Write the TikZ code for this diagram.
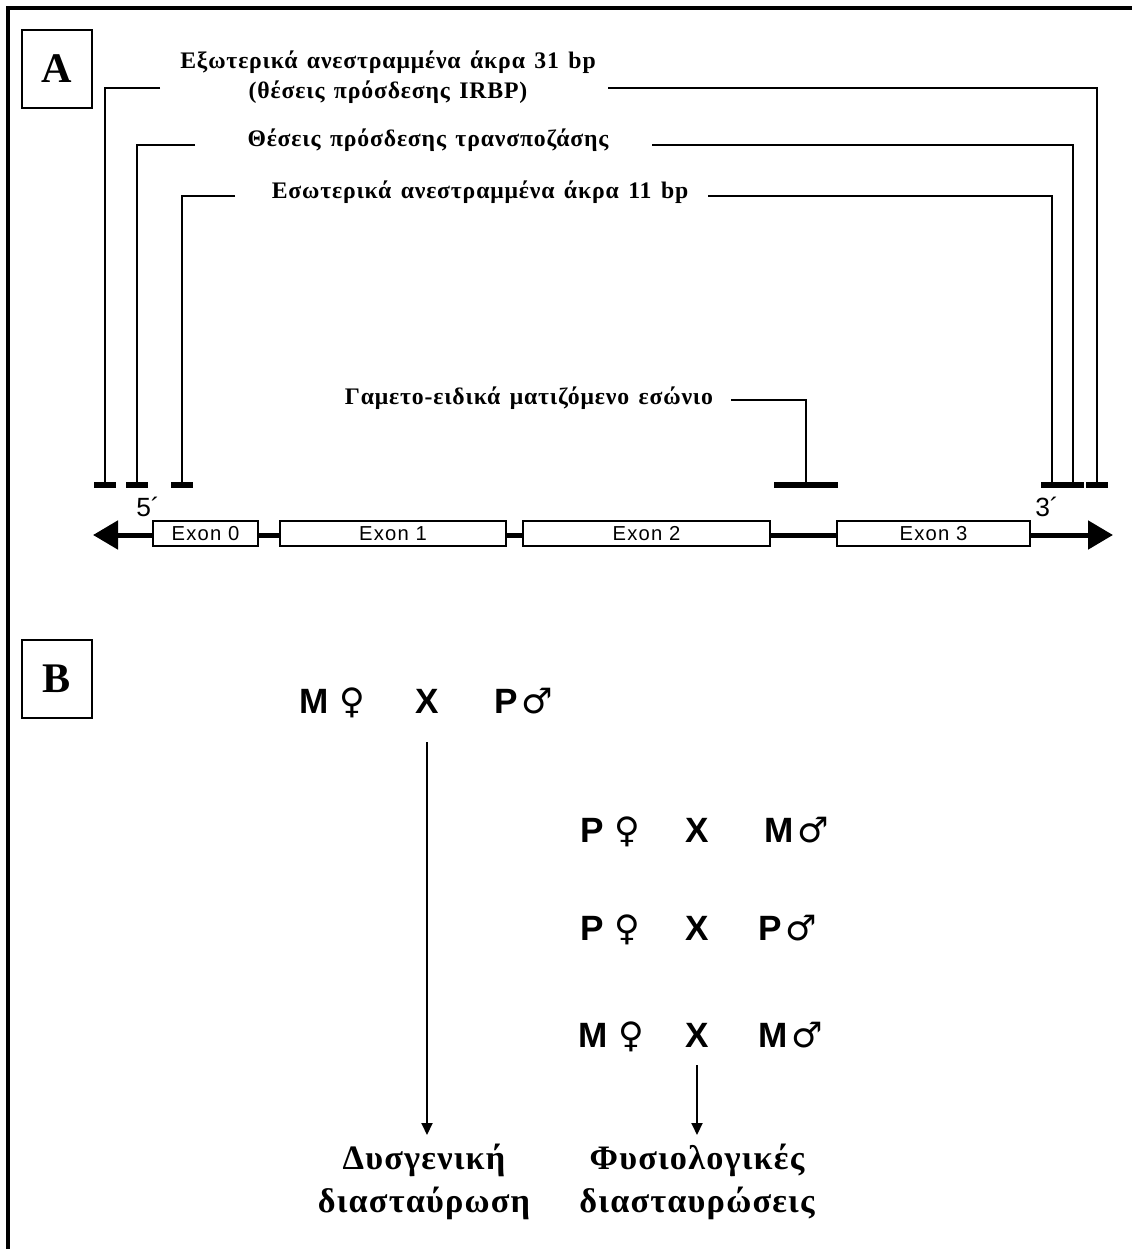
\documentclass[tikz,border=0pt]{standalone}
\usepackage{fontspec}
\setmainfont{Liberation Serif}
\setsansfont{Liberation Sans}
\newfontfamily\grfont[LetterSpace=3.5,WordSpace=1.4]{Liberation Serif}
\newfontfamily\exonfont[LetterSpace=6]{Liberation Sans}
\newfontfamily\symfont{DejaVu Sans}
\usetikzlibrary{arrows.meta,positioning}

\newcommand{\fem}{{\symfont\mdseries\hspace{0.3em}♀}}
\newcommand{\mal}{{\symfont\mdseries\hspace{0.1em}♂}}

\begin{document}
\begin{tikzpicture}[x=0.2mm,y=-0.2mm,
  leader/.style={line width=1.1pt},
  foot/.style={fill=black,inner sep=0pt,minimum width=4.4mm,minimum height=1.2mm},
  exon/.style={draw,line width=0.8pt,fill=white,inner sep=0pt,minimum height=5mm,
    font=\exonfont\fontsize{11.5}{12}\selectfont},
  tag/.style={draw,line width=1.1pt,inner sep=0pt,minimum width=14mm,minimum height=15.6mm,
    font=\bfseries\fontsize{24}{24}\selectfont},
  note/.style={font=\grfont\bfseries\fontsize{13.5}{17}\selectfont,align=center,inner sep=0pt},
  sex/.style={font=\sffamily\bfseries\fontsize{20}{24}\selectfont,inner sep=0pt},
  result/.style={font=\grfont\bfseries\fontsize{19.5}{24}\selectfont,align=center,inner sep=0pt},
  cross arrow/.style={line width=1.1pt,-{Triangle[length=2.4mm,width=2.2mm]}},
  ]
  \useasboundingbox (0,0) rectangle (1132,1249);
  % frame
  \draw[line width=2pt] (8,1249) -- (8,8) -- (1132,8);

  %%% A: the element
  \node[tag] (tagA) at (57,69) {A};

  % labels
  \node[note] (outer) at (388,77) {Εξωτερικά ανεστραμμένα άκρα 31 bp\\(θέσεις πρόσδεσης IRBP)};
  \node[note] (trans) at (428,140) {Θέσεις πρόσδεσης τρανσποζάσης};
  \node[note] (inner) at (480,192) {Εσωτερικά ανεστραμμένα άκρα 11 bp};
  \node[note] (gamet) at (529,398) {Γαμετο-ειδικά ματιζόμενο εσώνιο};

  % binding sites
  \foreach \n/\x in {ol/105,tl/137,il/182,ir/1052,tr/1073,or/1097}
    \node[foot] (f\n) at (\x,485) {};
  \node[foot,minimum width=12.8mm] (fg) at (806,485) {};

  % leaders
  \coordinate (sol) at (160,88);  \coordinate (sor) at (608,88);
  \coordinate (stl) at (195,145); \coordinate (str) at (652,145);
  \coordinate (sil) at (235,196); \coordinate (sir) at (708,196);
  \coordinate (sg) at (731,400);
  \draw[leader] (sol) -| (fol.north);
  \draw[leader] (sor) -| (for.north);
  \draw[leader] (stl) -| (ftl.north);
  \draw[leader] (str) -| (ftr.north);
  \draw[leader] (sil) -| (fil.north);
  \draw[leader] (sir) -| (fir.north);
  \draw[leader] (sg) -| (fg.north);

  % gene
  \coordinate (end5) at (93,535);
  \coordinate (end3) at (1113,535);
  \draw[line width=1mm,{Triangle[length=5mm,width=5.6mm]}-{Triangle[length=5mm,width=5.6mm]}] (end5) -- (end3);
  \node[exon,minimum width=21mm] (ex0) at (205.5,533.5) {Exon 0};
  \node[exon,minimum width=45.2mm] (ex1) at (393,533.5) {Exon 1};
  \node[exon,minimum width=49.4mm] (ex2) at (646.5,533.5) {Exon 2};
  \node[exon,minimum width=38.6mm] (ex3) at (933.5,533.5) {Exon 3};
  \node[font=\sffamily\fontsize{15}{15}\selectfont] (p5) at (148,507) {5´};
  \node[font=\sffamily\fontsize{15}{15}\selectfont] (p3) at (1047,507) {3´};

  %%% B: the crosses
  \node[tag] (tagB) at (57,679) {B};

  \node[sex,anchor=base west] (r1f) at (299,713) {M\fem};
  \node[sex,anchor=base] (r1x) at (427,713) {X};
  \node[sex,anchor=base west] (r1m) at (494,713) {P\mal};

  \node[sex,anchor=base west] (r2f) at (580,842) {P\fem};
  \node[sex,anchor=base] (r2x) at (697,842) {X};
  \node[sex,anchor=base west] (r2m) at (764,842) {M\mal};

  \node[sex,anchor=base west] (r3f) at (580,940) {P\fem};
  \node[sex,anchor=base] (r3x) at (697,940) {X};
  \node[sex,anchor=base west] (r3m) at (758,940) {P\mal};

  \node[sex,anchor=base west] (r4f) at (578,1047) {M\fem};
  \node[sex,anchor=base] (r4x) at (697,1047) {X};
  \node[sex,anchor=base west] (r4m) at (758,1047) {M\mal};

  % outcomes
  \node[result,anchor=north] (dys) at (424,1144) {Δυσγενική\\διασταύρωση};
  \node[result,anchor=north] (norm) at (697,1144) {Φυσιολογικές\\διασταυρώσεις};

  \draw[cross arrow,shorten <=5.8mm,shorten >=1.8mm] (r1x) -- (r1x |- dys.north);
  \draw[cross arrow,shorten <=3.6mm,shorten >=1.8mm] (r4x) -- (r4x |- norm.north);
\end{tikzpicture}
\end{document}
